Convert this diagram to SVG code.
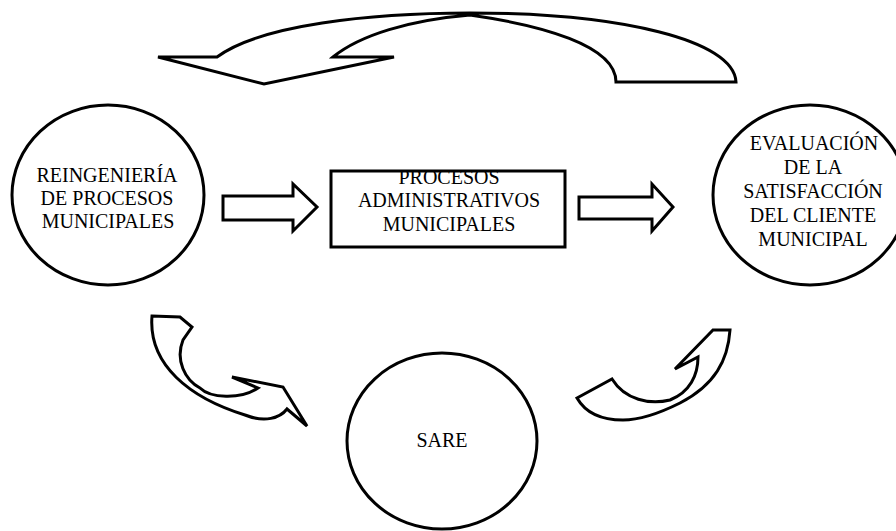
<svg xmlns="http://www.w3.org/2000/svg" width="896" height="531" viewBox="0 0 896 531">
<style>
.s{fill:#fff;stroke:#000;stroke-width:3;stroke-linejoin:miter}
.t{font-family:"Liberation Serif","Times New Roman",serif;font-size:20px;fill:#000;text-anchor:middle}
</style>
<rect width="896" height="531" fill="#fff"/>
<g id="connectors">
<path class="s" d="M158,57 L217,57 C260,25 370,13 470,13 C620,13 734,40 736,82 L616,82 C616,45 540,25 470,15 C410,20 360,35 333,57 L394,57 L264,84 Z"/>
<path class="s" d="M223,196 L293,196 L293,184 L317,207 L293,231 L293,220 L223,220 Z"/>
<path class="s" d="M579,197 L652,197 L652,184 L673,207 L652,231 L652,219 L579,219 Z"/>
<path class="s" d="M152,316 L180,317 L192,327 L183,340 C175,360 185,380 200,388 C210,398 240,400 258,388 L232,377 L283,387 L307,426 L287,409 C280,418 265,423 245,415 C190,398 148,365 152,316 Z"/>
<path class="s" d="M577,398 L612,379 C625,400 650,405 670,400 C690,392 698,375 698,357 L675,369 L713,330 L730,330 C728,360 715,385 680,403 C660,413 640,420 623,420 C600,420 585,412 577,398 Z"/>
</g>
<g id="reingenieria">
<ellipse class="s" cx="108" cy="195" rx="96" ry="90"/>
<text class="t" x="107" y="182">REINGENIERÍA</text>
<text class="t" x="107" y="205">DE PROCESOS</text>
<text class="t" x="108" y="228">MUNICIPALES</text>
</g>
<g id="procesos">
<rect class="s" x="331" y="171" width="234" height="76"/>
<text class="t" x="449" y="184">PROCESOS</text>
<text class="t" x="449" y="207">ADMINISTRATIVOS</text>
<text class="t" x="449" y="231">MUNICIPALES</text>
</g>
<g id="evaluacion">
<ellipse class="s" cx="810" cy="195" rx="97" ry="90"/>
<text class="t" x="814" y="150">EVALUACIÓN</text>
<text class="t" x="813" y="174">DE LA</text>
<text class="t" x="813" y="198">SATISFACCIÓN</text>
<text class="t" x="813" y="222">DEL CLIENTE</text>
<text class="t" x="813" y="246">MUNICIPAL</text>
</g>
<g id="sare">
<ellipse class="s" cx="442" cy="441" rx="95" ry="88"/>
<text class="t" x="442" y="447">SARE</text>
</g>
</svg>
